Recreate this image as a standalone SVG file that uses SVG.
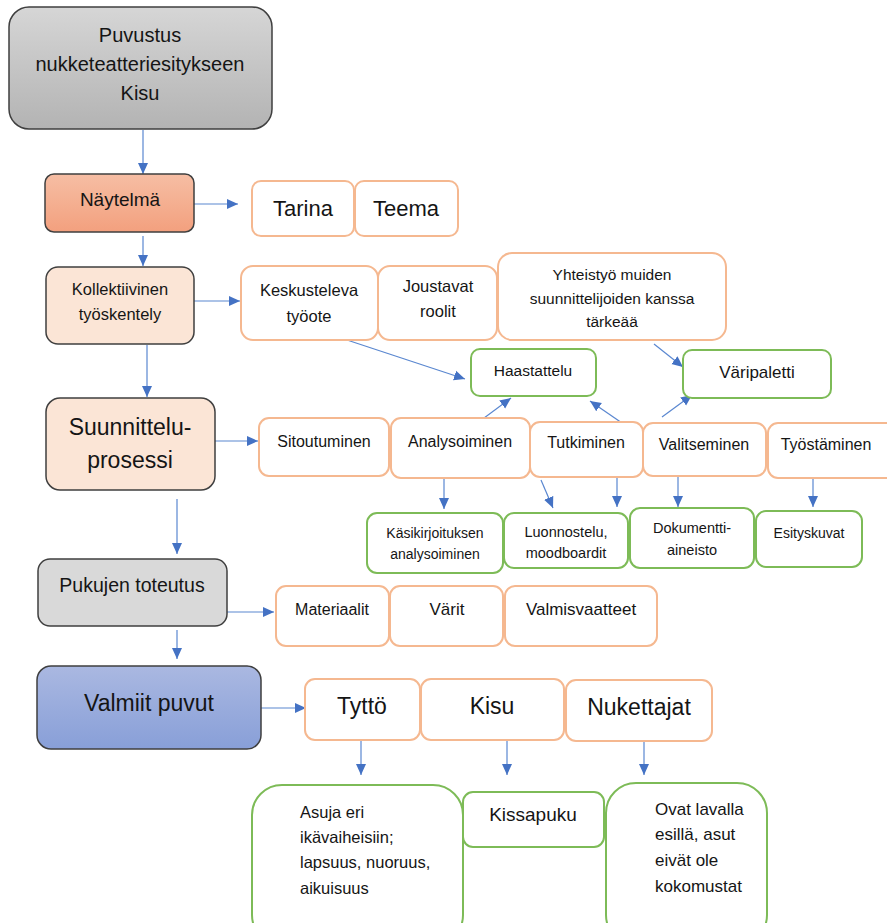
<svg xmlns="http://www.w3.org/2000/svg" width="887" height="923" viewBox="0 0 887 923">
<defs>
<linearGradient id="gGray" x1="0" y1="0" x2="0" y2="1"><stop offset="0" stop-color="#d6d6d6"/><stop offset="1" stop-color="#b3b3b3"/></linearGradient>
<linearGradient id="gSalmon" x1="0" y1="0" x2="0" y2="1"><stop offset="0" stop-color="#f6bea4"/><stop offset="1" stop-color="#f3a07e"/></linearGradient>
<linearGradient id="gBlue" x1="0" y1="0" x2="0" y2="1"><stop offset="0" stop-color="#aab8e1"/><stop offset="1" stop-color="#889fd8"/></linearGradient>
<marker id="ah" markerUnits="userSpaceOnUse" markerWidth="12" markerHeight="12" viewBox="0 0 12 12" refX="11" refY="6" orient="auto">
<path d="M0,1 L11,6 L0,11 Z" fill="#4472c4"/>
</marker>
<style>
text{font-family:"Liberation Sans",Arial,sans-serif;fill:#151515;text-anchor:middle}
.main{stroke:#3f3f3f;stroke-width:1.5}
.or{fill:#fff;stroke:#f5b890;stroke-width:2}
.gr{fill:#fff;stroke:#7dbb57;stroke-width:2}
.c{fill:none;stroke:#5a87d0;stroke-width:1.2;marker-end:url(#ah)}
.l{text-anchor:start}
</style>
</defs>

<g id="connectors">
<line class="c" x1="143" y1="130" x2="143" y2="174"/>
<line class="c" x1="194" y1="204" x2="238" y2="204"/>
<line class="c" x1="143" y1="236" x2="143" y2="266"/>
<line class="c" x1="194" y1="301" x2="240" y2="301"/>
<line class="c" x1="147" y1="345" x2="147" y2="397"/>
<line class="c" x1="347" y1="340" x2="465" y2="379"/>
<line class="c" x1="654" y1="344" x2="683" y2="367"/>
<line class="c" x1="215" y1="441" x2="258" y2="441"/>
<line class="c" x1="480" y1="421" x2="511" y2="398"/>
<line class="c" x1="622" y1="423" x2="590" y2="401"/>
<line class="c" x1="662" y1="417" x2="692" y2="395"/>
<line class="c" x1="444" y1="475" x2="444" y2="509"/>
<line class="c" x1="541" y1="480" x2="553" y2="508"/>
<line class="c" x1="617" y1="477" x2="617" y2="507"/>
<line class="c" x1="678" y1="476" x2="678" y2="507"/>
<line class="c" x1="813" y1="478" x2="813" y2="507"/>
<line class="c" x1="177" y1="499" x2="177" y2="554"/>
<line class="c" x1="227" y1="612" x2="274" y2="612"/>
<line class="c" x1="177" y1="630" x2="177" y2="659"/>
<line class="c" x1="261" y1="708" x2="306" y2="708"/>
<line class="c" x1="361" y1="740" x2="361" y2="775"/>
<line class="c" x1="507" y1="740" x2="507" y2="775"/>
<line class="c" x1="644" y1="741" x2="644" y2="775"/>
</g>

<g id="n-puvustus"><rect class="main" x="9" y="7" width="263" height="122" rx="20" fill="url(#gGray)"/>
<text x="140" y="42" font-size="20">Puvustus</text><text x="140" y="71" font-size="20">nukketeatteriesitykseen</text><text x="140" y="100" font-size="20">Kisu</text></g>

<g id="n-naytelma"><rect class="main" x="45" y="174" width="149" height="58" rx="9" fill="url(#gSalmon)"/>
<text x="120" y="206" font-size="19">Näytelmä</text></g>
<g id="n-tarina"><rect class="or" x="252" y="181" width="102" height="55" rx="9"/><text x="303" y="216" font-size="22">Tarina</text></g>
<g id="n-teema"><rect class="or" x="355" y="181" width="103" height="55" rx="9"/><text x="406" y="216" font-size="22">Teema</text></g>

<g id="n-kollektiivinen"><rect class="main" x="46" y="267" width="148" height="77" rx="12" fill="#fbe5d6"/>
<text x="120" y="295" font-size="16.5">Kollektiivinen</text><text x="120" y="320" font-size="16.5">työskentely</text></g>
<g id="n-keskusteleva"><rect class="or" x="241" y="266" width="137" height="74" rx="12"/>
<text x="309" y="296" font-size="16.5">Keskusteleva</text><text x="309" y="322" font-size="16.5">työote</text></g>
<g id="n-joustavat"><rect class="or" x="378" y="266" width="119" height="74" rx="12"/>
<text x="438" y="292" font-size="16.5">Joustavat</text><text x="438" y="317" font-size="16.5">roolit</text></g>
<g id="n-yhteistyo"><rect class="or" x="498" y="253" width="228" height="87" rx="14"/>
<text x="612" y="280" font-size="15.5">Yhteistyö muiden</text><text x="612" y="304" font-size="15.5">suunnittelijoiden kanssa</text><text x="612" y="327" font-size="15.5">tärkeää</text></g>
<g id="n-haastattelu"><rect class="gr" x="471" y="349" width="125" height="47" rx="9"/><text x="533" y="376" font-size="15.5">Haastattelu</text></g>
<g id="n-varipaletti"><rect class="gr" x="683" y="350" width="148" height="48" rx="9"/><text x="757" y="378" font-size="17">Väripaletti</text></g>

<g id="n-suunnittelu"><rect class="main" x="46" y="398" width="169" height="92" rx="14" fill="#fbe5d6"/>
<text x="130" y="435" font-size="23">Suunnittelu-</text><text x="130" y="468" font-size="23">prosessi</text></g>
<g id="n-sitoutuminen"><rect class="or" x="259" y="418" width="130" height="58" rx="10"/><text x="324" y="447" font-size="16">Sitoutuminen</text></g>
<g id="n-analysoiminen"><rect class="or" x="391" y="418" width="139" height="60" rx="10"/><text x="460" y="447" font-size="16">Analysoiminen</text></g>
<g id="n-tutkiminen"><rect class="or" x="530" y="422" width="113" height="55" rx="10"/><text x="586" y="448" font-size="16">Tutkiminen</text></g>
<g id="n-valitseminen"><rect class="or" x="643" y="423" width="123" height="53" rx="10"/><text x="704" y="450" font-size="16">Valitseminen</text></g>
<g id="n-tyostaminen"><rect class="or" x="768" y="423" width="130" height="55" rx="10"/><text x="826" y="450" font-size="16">Työstäminen</text></g>

<g id="n-kasikirjoituksen"><rect class="gr" x="367" y="513" width="136" height="60" rx="10"/>
<text x="435" y="538" font-size="14">Käsikirjoituksen</text><text x="435" y="559" font-size="14">analysoiminen</text></g>
<g id="n-luonnostelu"><rect class="gr" x="504" y="513" width="124" height="55" rx="10"/>
<text x="566" y="537" font-size="14.5">Luonnostelu,</text><text x="566" y="558" font-size="14.5">moodboardit</text></g>
<g id="n-dokumentti"><rect class="gr" x="630" y="508" width="124" height="60" rx="10"/>
<text x="692" y="533" font-size="14.5">Dokumentti-</text><text x="692" y="555" font-size="14.5">aineisto</text></g>
<g id="n-esityskuvat"><rect class="gr" x="756" y="511" width="106" height="56" rx="10"/><text x="809" y="538" font-size="14">Esityskuvat</text></g>

<g id="n-pukujen"><rect class="main" x="38" y="559" width="189" height="67" rx="12" fill="#d9d9d9"/><text x="132" y="592" font-size="19.5">Pukujen toteutus</text></g>
<g id="n-materiaalit"><rect class="or" x="276" y="586" width="113" height="60" rx="10"/><text x="332" y="615" font-size="16">Materiaalit</text></g>
<g id="n-varit"><rect class="or" x="390" y="586" width="113" height="60" rx="10"/><text x="447" y="615" font-size="17">Värit</text></g>
<g id="n-valmisvaatteet"><rect class="or" x="505" y="586" width="152" height="60" rx="10"/><text x="581" y="615" font-size="17">Valmisvaatteet</text></g>

<g id="n-valmiit"><rect class="main" x="37" y="666" width="224" height="83" rx="14" fill="url(#gBlue)"/><text x="149" y="711" font-size="23">Valmiit puvut</text></g>
<g id="n-tytto"><rect class="or" x="305" y="679" width="115" height="61" rx="10"/><text x="362" y="714" font-size="23">Tyttö</text></g>
<g id="n-kisu"><rect class="or" x="421" y="679" width="143" height="61" rx="10"/><text x="492" y="714" font-size="23">Kisu</text></g>
<g id="n-nukettajat"><rect class="or" x="566" y="680" width="146" height="61" rx="10"/><text x="639" y="715" font-size="23">Nukettajat</text></g>

<g id="n-asuja"><rect class="gr" x="252" y="785" width="211" height="160" rx="30"/>
<text class="l" x="300" y="818" font-size="16.5">Asuja eri</text><text class="l" x="300" y="843" font-size="16.5">ikävaiheisiin;</text><text class="l" x="300" y="868" font-size="16.5">lapsuus, nuoruus,</text><text class="l" x="300" y="894" font-size="16.5">aikuisuus</text></g>
<g id="n-kissapuku"><rect class="gr" x="463" y="792" width="141" height="55" rx="10"/><text x="533" y="821" font-size="19">Kissapuku</text></g>
<g id="n-ovat"><rect class="gr" x="606" y="783" width="161" height="162" rx="30"/>
<text class="l" x="655" y="815" font-size="17">Ovat lavalla</text><text class="l" x="655" y="840" font-size="17">esillä, asut</text><text class="l" x="655" y="866" font-size="17">eivät ole</text><text class="l" x="655" y="892" font-size="17">kokomustat</text></g>
</svg>
